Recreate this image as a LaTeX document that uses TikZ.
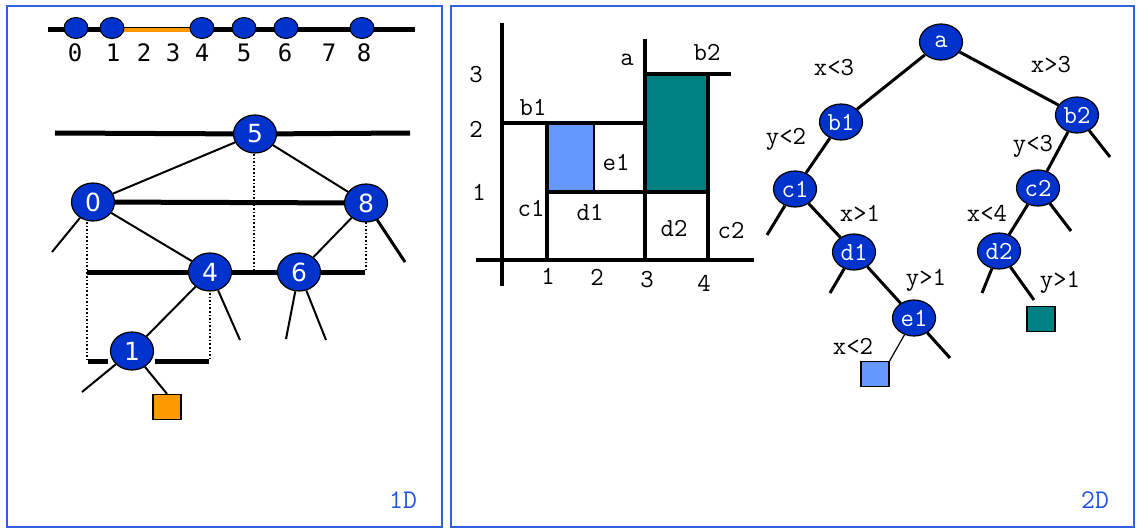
\documentclass[tikz,border=0pt]{standalone}
\usepackage{fontspec}
\newfontfamily\dejasans{DejaVu Sans}
\newfontfamily\dejamono{DejaVu Sans Mono}
\usepackage{xcolor}
\definecolor{nodeblue}{HTML}{0033CC}
\definecolor{leaforange}{HTML}{FF9900}
\definecolor{cellblue}{HTML}{6699FF}
\definecolor{cellteal}{HTML}{008080}
\definecolor{frameblue}{HTML}{3360DD}
\definecolor{tagblue}{HTML}{2255DD}
\usetikzlibrary{shapes.geometric}

\begin{document}
\begin{tikzpicture}[x=0.5pt, y=-0.5pt,
    every node/.style={inner sep=0pt},
    bnode/.style={ellipse, draw=black, line width=0.6pt, fill=nodeblue, text=white,
      minimum width=21.5pt, minimum height=19pt, font=\dejasans\fontsize{12.5}{12}\selectfont},
    knode/.style={bnode, minimum height=18pt, font=\ttfamily\fontsize{13}{12}\selectfont},
    dot/.style={ellipse, draw=black, line width=0.5pt, fill=nodeblue,
      minimum width=12pt, minimum height=10.5pt},
    leaf/.style={rectangle, draw=black, line width=0.6pt, minimum width=14pt, minimum height=12.5pt},
    cut/.style={line width=2pt},
    bigcut/.style={line width=2.5pt},
    edge/.style={line width=1pt},
    redge/.style={line width=1.5pt},
    guide/.style={line width=0.8pt, densely dotted},
    num/.style={font=\dejamono\fontsize{12}{12}\selectfont},
    lbl/.style={font=\ttfamily\fontsize{13}{12}\selectfont},
    tag/.style={text=tagblue, font=\ttfamily\fontsize{13.5}{13}\selectfont}
]
  \useasboundingbox (0,0) rectangle (1138,529);

  % Rahmen
  \draw[frameblue, line width=0.6pt] (7,6) rectangle (442,527);
  \draw[frameblue, line width=0.6pt] (451,6) rectangle (1134,527);
  \node[tag] (t1d) at (403,500) {1D};
  \node[tag] (t2d) at (1095,500) {2D};

  % ---- 1D: Zahlengerade ----
  \draw[line width=2.5pt] (48,30) -- (415,30);
  \draw[leaforange, line width=2pt] (123,30) -- (192,30);
  \foreach \x/\n in {76/0, 112/1, 202/4, 244/5, 286/6, 362/8}
    \node[dot] (p\n) at (\x,28) {};
  \foreach \x/\n in {75/0, 113/1, 144/2, 173/3, 202/4, 244/5, 285/6, 329/7, 364/8}
    \node[num] (z\n) at (\x,53) {\n};

  % ---- 1D: Baum ----
  \node[bnode] (n5) at (255,134) {5};
  \node[bnode] (n0) at (93,202) {0};
  \node[bnode] (n8) at (366,203) {8};
  \node[bnode] (n4) at (210,272) {4};
  \node[bnode] (n6) at (299,272) {6};
  \node[bnode] (n1) at (132,351) {1};
  \node[leaf, fill=leaforange] (sq1) at (167,407) {};

  % Schnittlinien
  \draw[bigcut] (55,133) -- (n5) -- (410,133);
  \draw[bigcut] (n0) -- (n8);
  \draw[bigcut] (87,272) -- (n4) -- (n6) -- (365,272);
  \draw[bigcut] (88,361) -- (108,361);
  \draw[bigcut] (155,361) -- (209,361);

  % Hilfslinien
  \draw[guide] (254,154) -- (254,270);
  \draw[guide] (87,222) -- (87,360);
  \draw[guide] (366,222) -- (366,270);
  \draw[guide] (210,293) -- (210,360);

  % Kanten
  \coordinate (s0) at (52,252);
  \coordinate (s8) at (405,262);
  \coordinate (s4) at (240,340);
  \coordinate (s6a) at (286,339);
  \coordinate (s6b) at (326,340);
  \coordinate (s1) at (82,392);
  \draw[edge] (n5) -- (n0);
  \draw[edge] (n5) -- (n8);
  \draw[edge] (n0) -- (n4);
  \draw[edge] (n8) -- (n6);
  \draw[edge] (n4) -- (n1);
  \draw[edge] (n1) -- (sq1.north);
  \draw[edge] (n0) -- (s0);
  \draw[redge] (n8) -- (s8);
  \draw[edge] (n4) -- (s4);
  \draw[edge] (n6) -- (s6a);
  \draw[edge] (n6) -- (s6b);
  \draw[edge] (n1) -- (s1);

  % ---- 2D: Ebene ----
  \fill[cellblue] (547,123) rectangle (594,192);
  \fill[cellteal] (645,74) rectangle (708,192);
  \draw[cut] (502,23) -- (502,286);
  \draw[cut] (476,260) -- (754,260);
  \draw[cut] (645,39) -- (645,260);
  \draw[cut] (502,123) -- (645,123);
  \draw[cut] (645,74) -- (731,74);
  \draw[cut] (547,123) -- (547,260);
  \draw[cut] (708,74) -- (708,260);
  \draw[cut] (547,192) -- (708,192);
  \draw[edge] (594,123) -- (594,192);

  \node[lbl] (y3) at (476,75) {3};
  \node[lbl] (y2) at (476,129) {2};
  \node[lbl] (y1) at (479,192) {1};
  \node[lbl] (x1) at (548,276) {1};
  \node[lbl] (x2) at (597,277) {2};
  \node[lbl] (x3) at (647,280) {3};
  \node[lbl] (x4) at (704,283) {4};
  \node[lbl] (ra) at (627,60) {a};
  \node[lbl] (rb2) at (707,52) {b2};
  \node[lbl] (rb1) at (533,107) {b1};
  \node[lbl] (re1) at (616,162) {e1};
  \node[lbl] (rc1) at (531,208) {c1};
  \node[lbl] (rd1) at (590,212) {d1};
  \node[lbl] (rd2) at (674,228) {d2};
  \node[lbl] (rc2) at (731,230) {c2};

  % ---- 2D: Baum ----
  \node[knode] (a) at (941,42) {a};
  \node[knode] (b1) at (841,122) {b1};
  \node[knode] (b2) at (1077,115) {b2};
  \node[knode] (c1) at (795,189) {c1};
  \node[knode] (c2) at (1038,188) {c2};
  \node[knode] (d1) at (854,252) {d1};
  \node[knode] (d2) at (999,251) {d2};
  \node[knode] (e1) at (914,318) {e1};
  \node[leaf, fill=cellblue] (sqb) at (875,374) {};
  \node[leaf, fill=cellteal] (sqt) at (1041,319) {};

  \coordinate (sb2) at (1110,157);
  \coordinate (sc1) at (767,235);
  \coordinate (sd1) at (830,293);
  \coordinate (se1) at (950,358);
  \coordinate (sc2) at (1071,231);
  \coordinate (sd2) at (982,293);
  \coordinate (td2) at (1034,300);
  \draw[redge] (a) -- (b1);
  \draw[redge] (a) -- (b2);
  \draw[redge] (b1) -- (c1);
  \draw[redge] (b2) -- (c2);
  \draw[redge] (c1) -- (d1);
  \draw[redge] (c2) -- (d2);
  \draw[redge] (d1) -- (e1);
  \draw[redge] (b2) -- (sb2);
  \draw[redge] (c1) -- (sc1);
  \draw[redge] (d1) -- (sd1);
  \draw[redge] (e1) -- (se1);
  \draw[redge] (c2) -- (sc2);
  \draw[redge] (d2) -- (sd2);
  \draw[redge] (d2) -- (td2);
  \draw[line width=0.6pt] (e1) -- (sqb.north east);

  \node[lbl] (l1) at (834,68) {x<3};
  \node[lbl] (l2) at (1051,65) {x>3};
  \node[lbl] (l3) at (786,139) {y<2};
  \node[lbl] (l4) at (1033,146) {y<3};
  \node[lbl] (l5) at (860,213) {x>1};
  \node[lbl] (l6) at (987,213) {x<4};
  \node[lbl] (l7) at (926,280) {y>1};
  \node[lbl] (l8) at (1060,282) {y>1};
  \node[lbl] (l9) at (853,346) {x<2};
\end{tikzpicture}
\end{document}
